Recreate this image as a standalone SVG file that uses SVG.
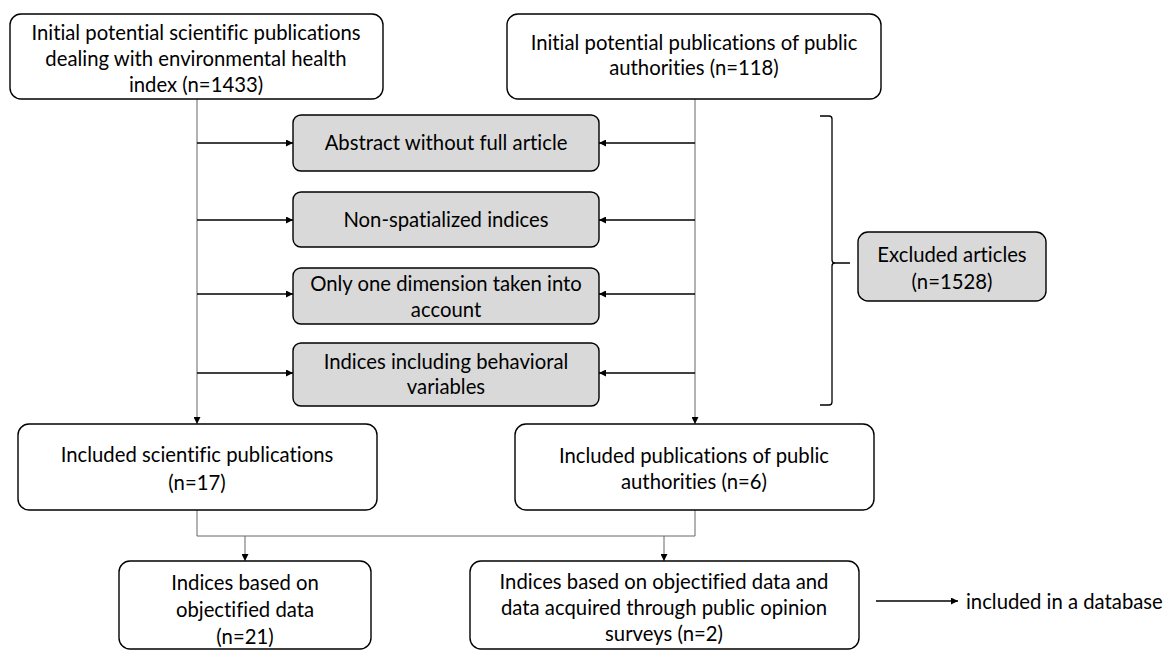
<svg xmlns="http://www.w3.org/2000/svg" width="1174" height="650" viewBox="0 0 1174 650">
<defs>
<style>
.box{fill:#fff;stroke:#000;stroke-width:1.4}
.gbox{fill:#d9d9d9;stroke:#000;stroke-width:1.4}
text{font-family:Lato,"Open Sans",sans-serif;font-size:20.3px;fill:#000;text-anchor:middle;font-variant-ligatures:none}
.v{stroke:#666;stroke-width:1;fill:none}
.h{stroke:#000;stroke-width:1.3;fill:none}
</style>
<marker id="ah" viewBox="0 0 10 10" refX="10" refY="5" markerWidth="7" markerHeight="7" markerUnits="userSpaceOnUse" orient="auto">
<path d="M0,0 L10,5 L0,10 z" fill="#000"/>
</marker>
</defs>
<g id="connectors">
<line class="v" x1="197" y1="99" x2="197" y2="424" marker-end="url(#ah)"/>
<line class="v" x1="695" y1="99" x2="695" y2="424" marker-end="url(#ah)"/>
<line class="h" x1="197" y1="143" x2="293" y2="143" marker-end="url(#ah)"/>
<line class="h" x1="197" y1="220" x2="293" y2="220" marker-end="url(#ah)"/>
<line class="h" x1="197" y1="294" x2="293" y2="294" marker-end="url(#ah)"/>
<line class="h" x1="197" y1="373" x2="293" y2="373" marker-end="url(#ah)"/>
<line class="h" x1="695" y1="143" x2="599" y2="143" marker-end="url(#ah)"/>
<line class="h" x1="695" y1="220" x2="599" y2="220" marker-end="url(#ah)"/>
<line class="h" x1="695" y1="294" x2="599" y2="294" marker-end="url(#ah)"/>
<line class="h" x1="695" y1="373" x2="599" y2="373" marker-end="url(#ah)"/>
<polyline class="v" points="197,510 197,536 695,536 695,510"/>
<line class="v" x1="245" y1="536" x2="245" y2="561" marker-end="url(#ah)"/>
<line class="v" x1="664" y1="536" x2="664" y2="561" marker-end="url(#ah)"/>
<path class="h" d="M820,116 L829,116 Q832,116 832,119 L832,260 Q832,263 835,263 L850,263 M835,263 Q832,263 832,266 L832,402 Q832,405 829,405 L820,405"/>
<line class="h" x1="876" y1="601" x2="958" y2="601" marker-end="url(#ah)"/>
</g>
<g id="n1">
<rect class="box" x="10" y="14" width="373" height="85" rx="11"/>
<text x="196" y="40">Initial potential scientific publications</text>
<text x="196" y="66">dealing with environmental health</text>
<text x="196" y="92">index (n=1433)</text>
</g>
<g id="n2">
<rect class="box" x="507" y="14" width="374" height="85" rx="11"/>
<text x="694" y="50">Initial potential publications of public</text>
<text x="694" y="75">authorities (n=118)</text>
</g>
<g id="e1">
<rect class="gbox" x="293" y="115" width="306" height="56" rx="8"/>
<text x="446" y="150">Abstract without full article</text>
</g>
<g id="e2">
<rect class="gbox" x="293" y="192" width="306" height="55" rx="8"/>
<text x="446" y="227">Non-spatialized indices</text>
</g>
<g id="e3">
<rect class="gbox" x="293" y="268" width="306" height="56" rx="8"/>
<text x="446" y="291">Only one dimension taken into</text>
<text x="446" y="317">account</text>
</g>
<g id="e4">
<rect class="gbox" x="293" y="343" width="306" height="63" rx="8"/>
<text x="446" y="369">Indices including behavioral</text>
<text x="446" y="394">variables</text>
</g>
<g id="excluded">
<rect class="gbox" x="858" y="232" width="188" height="69" rx="10"/>
<text x="952" y="262">Excluded articles</text>
<text x="952" y="289">(n=1528)</text>
</g>
<g id="n3">
<rect class="box" x="18" y="424" width="359" height="86" rx="11"/>
<text x="197" y="462">Included scientific publications</text>
<text x="197" y="490">(n=17)</text>
</g>
<g id="n4">
<rect class="box" x="515" y="424" width="359" height="86" rx="11"/>
<text x="694" y="463">Included publications of public</text>
<text x="694" y="489">authorities (n=6)</text>
</g>
<g id="n5">
<rect class="box" x="119" y="561" width="252" height="88" rx="11"/>
<text x="245" y="590">Indices based on</text>
<text x="245" y="617">objectified data</text>
<text x="245" y="644">(n=21)</text>
</g>
<g id="n6">
<rect class="box" x="470" y="561" width="389" height="88" rx="11"/>
<text x="664" y="589">Indices based on objectified data and</text>
<text x="664" y="615">data acquired through public opinion</text>
<text x="664" y="641">surveys (n=2)</text>
</g>
<g id="db">
<text x="966" y="609" style="text-anchor:start">included in a database</text>
</g>
</svg>
